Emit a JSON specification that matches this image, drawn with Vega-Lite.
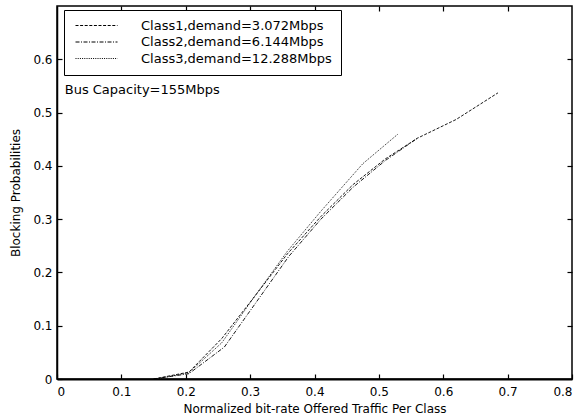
{
  "$schema": "https://vega.github.io/schema/vega-lite/v6.json",
  "width": 515,
  "height": 373,
  "autosize": {"type": "none"},
  "padding": {"left": 57, "top": 6, "right": 7, "bottom": 41},
  "background": "white",
  "config": {
    "font": "DejaVu Sans",
    "view": {"stroke": "black", "strokeWidth": 1.5},
    "axis": {
      "grid": false,
      "format": "~g",
      "labelFont": "DejaVu Sans",
      "labelFontSize": 12,
      "labelColor": "black",
      "titleFont": "DejaVu Sans",
      "titleFontSize": 12,
      "titleFontWeight": "normal",
      "titleColor": "black"
    }
  },
  "resolve": {"axis": {"x": "independent", "y": "independent"}},
  "layer": [
    {
      "data": {
        "values": [
          {"cls": "Class1,demand=3.072Mbps", "x": 0.15, "y": 0},
          {"cls": "Class1,demand=3.072Mbps", "x": 0.205, "y": 0.013},
          {"cls": "Class1,demand=3.072Mbps", "x": 0.256, "y": 0.076},
          {"cls": "Class1,demand=3.072Mbps", "x": 0.307, "y": 0.155},
          {"cls": "Class1,demand=3.072Mbps", "x": 0.358, "y": 0.235},
          {"cls": "Class1,demand=3.072Mbps", "x": 0.41, "y": 0.305},
          {"cls": "Class1,demand=3.072Mbps", "x": 0.46, "y": 0.365},
          {"cls": "Class1,demand=3.072Mbps", "x": 0.51, "y": 0.413},
          {"cls": "Class1,demand=3.072Mbps", "x": 0.56, "y": 0.452},
          {"cls": "Class1,demand=3.072Mbps", "x": 0.62, "y": 0.487},
          {"cls": "Class1,demand=3.072Mbps", "x": 0.685, "y": 0.537},
          {"cls": "Class2,demand=6.144Mbps", "x": 0.15, "y": 0},
          {"cls": "Class2,demand=6.144Mbps", "x": 0.205, "y": 0.01},
          {"cls": "Class2,demand=6.144Mbps", "x": 0.26, "y": 0.06},
          {"cls": "Class2,demand=6.144Mbps", "x": 0.31, "y": 0.145},
          {"cls": "Class2,demand=6.144Mbps", "x": 0.36, "y": 0.23},
          {"cls": "Class2,demand=6.144Mbps", "x": 0.41, "y": 0.3},
          {"cls": "Class2,demand=6.144Mbps", "x": 0.46, "y": 0.36},
          {"cls": "Class2,demand=6.144Mbps", "x": 0.51, "y": 0.41},
          {"cls": "Class2,demand=6.144Mbps", "x": 0.56, "y": 0.452},
          {"cls": "Class3,demand=12.288Mbps", "x": 0.155, "y": 0},
          {"cls": "Class3,demand=12.288Mbps", "x": 0.205, "y": 0.012},
          {"cls": "Class3,demand=12.288Mbps", "x": 0.256, "y": 0.068},
          {"cls": "Class3,demand=12.288Mbps", "x": 0.307, "y": 0.155},
          {"cls": "Class3,demand=12.288Mbps", "x": 0.358, "y": 0.24},
          {"cls": "Class3,demand=12.288Mbps", "x": 0.41, "y": 0.315},
          {"cls": "Class3,demand=12.288Mbps", "x": 0.475, "y": 0.404},
          {"cls": "Class3,demand=12.288Mbps", "x": 0.53, "y": 0.46}
        ]
      },
      "mark": {"type": "line", "color": "black", "strokeWidth": 0.9},
      "encoding": {
        "x": {
          "field": "x", "type": "quantitative",
          "scale": {"domain": [0, 0.8], "nice": false, "zero": false},
          "axis": {
            "orient": "bottom",
            "values": [0, 0.1, 0.2, 0.3, 0.4, 0.5, 0.6, 0.7, 0.8],
            "domain": true, "domainColor": "black", "domainWidth": 2,
            "ticks": true, "tickColor": "black", "tickWidth": 1.2, "tickSize": -5,
            "labelPadding": 12,
            "title": "Normalized bit-rate Offered Traffic Per Class",
            "titlePadding": 6
          }
        },
        "y": {
          "field": "y", "type": "quantitative",
          "scale": {"domain": [0, 0.7], "nice": false, "zero": false},
          "axis": {
            "orient": "left",
            "values": [0, 0.1, 0.2, 0.3, 0.4, 0.5, 0.6],
            "domain": true, "domainColor": "black", "domainWidth": 1.5,
            "ticks": true, "tickColor": "black", "tickWidth": 1.2, "tickSize": -5,
            "labelPadding": 10,
            "title": "Blocking Probabilities",
            "titlePadding": 10
          }
        },
        "strokeDash": {
          "field": "cls", "type": "nominal",
          "scale": {"range": [[3, 1.6], [4, 1.5, 1, 1.5], [1, 1.2]]},
          "legend": {
            "orient": "none",
            "legendX": 7,
            "legendY": 4,
            "title": null,
            "strokeColor": "black",
            "fillColor": "white",
            "padding": 9,
            "symbolType": "M-1,0H9.5",
            "symbolSize": 64,
            "symbolStrokeWidth": 1,
            "symbolStrokeColor": "black",
            "symbolFillColor": "transparent",
            "labelOffset": 55,
            "labelFontSize": 13,
            "labelFont": "DejaVu Sans",
            "labelColor": "black",
            "labelLimit": 400,
            "rowPadding": 2.5
          }
        }
      }
    },
    {
      "data": {"values": [{"x": 0.012, "y": 0.542, "label": "Bus Capacity=155Mbps"}]},
      "mark": {"type": "text", "align": "left", "baseline": "middle", "font": "DejaVu Sans", "fontSize": 13, "color": "black"},
      "encoding": {
        "x": {
          "field": "x", "type": "quantitative",
          "axis": {"orient": "top", "values": [0.1, 0.2, 0.3, 0.4, 0.5, 0.6, 0.7], "labels": false, "title": null,
                   "domain": false, "ticks": true, "tickColor": "black", "tickWidth": 1.2, "tickSize": -5}
        },
        "y": {
          "field": "y", "type": "quantitative",
          "axis": {"orient": "right", "values": [0.1, 0.2, 0.3, 0.4, 0.5, 0.6], "labels": false, "title": null,
                   "domain": false, "ticks": true, "tickColor": "black", "tickWidth": 1.2, "tickSize": -5}
        },
        "text": {"field": "label"}
      }
    }
  ]
}
